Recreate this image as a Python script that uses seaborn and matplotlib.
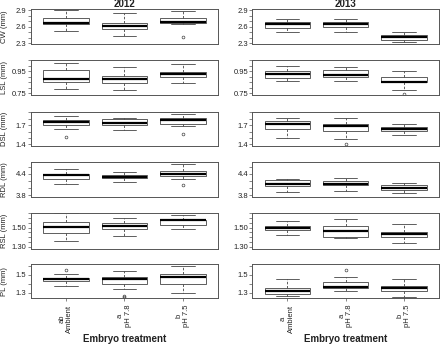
import numpy as np
import matplotlib
matplotlib.use("Agg")
import matplotlib.pyplot as plt
import seaborn as sns

# treatments and significance letters
treatments = ["Ambient", "pH 7.8", "pH 7.5"]
letters_2012 = ["ab", "a", "b"]
letters_2013 = ["a", "a", "b"]
years = ["2012", "2013"]
variables = ["CW", "LSL", "DSL", "RDL", "RSL", "PL"]

# box stats: [lower whisker, q1, median, q3, upper whisker]
CW_2012 = [[2.52, 2.64, 2.675, 2.755, 2.90], [2.43, 2.553, 2.62, 2.675, 2.856], [2.64, 2.665, 2.69, 2.75, 2.875]]
CW_2013 = [[2.50, 2.58, 2.65, 2.69, 2.74], [2.51, 2.585, 2.64, 2.69, 2.74], [2.33, 2.36, 2.405, 2.44, 2.50]]
LSL_2012 = [[0.786, 0.853, 0.88, 0.96, 1.025], [0.78, 0.84, 0.88, 0.91, 0.986], [0.844, 0.895, 0.923, 0.946, 1.014]]
LSL_2013 = [[0.862, 0.892, 0.923, 0.953, 0.995], [0.862, 0.898, 0.914, 0.965, 0.992], [0.777, 0.85, 0.855, 0.898, 0.956]]
DSL_2012 = [[1.638, 1.695, 1.747, 1.784, 1.84], [1.622, 1.695, 1.731, 1.80, 1.815], [1.68, 1.711, 1.778, 1.809, 1.871]]
DSL_2013 = [[1.498, 1.633, 1.722, 1.768, 1.815], [1.482, 1.607, 1.68, 1.716, 1.815], [1.54, 1.607, 1.638, 1.669, 1.716]]
RDL_2012 = [[4.106, 4.249, 4.38, 4.41, 4.534], [4.17, 4.277, 4.323, 4.363, 4.466], [4.266, 4.343, 4.41, 4.494, 4.677]]
RDL_2013 = [[3.886, 4.057, 4.106, 4.22, 4.266], [3.906, 4.077, 4.123, 4.209, 4.294], [3.849, 3.943, 4.009, 4.094, 4.151]]
RSL_2012 = [[1.363, 1.441, 1.504, 1.557, 1.652], [1.415, 1.486, 1.515, 1.553, 1.599], [1.486, 1.532, 1.578, 1.584, 1.637]]
RSL_2013 = [[1.42, 1.476, 1.50, 1.52, 1.571], [1.387, 1.405, 1.465, 1.52, 1.592], [1.335, 1.398, 1.434, 1.458, 1.539]]
PL_2012 = [[1.379, 1.432, 1.451, 1.463, 1.511], [1.338, 1.398, 1.451, 1.474, 1.549], [1.293, 1.398, 1.474, 1.515, 1.602]]
PL_2013 = [[1.263, 1.282, 1.32, 1.357, 1.459], [1.32, 1.35, 1.365, 1.425, 1.474], [1.25, 1.32, 1.353, 1.38, 1.459]]

# outliers
fliers_2012 = {"CW": [[], [], [2.41]], "DSL": [[1.509], [], [1.556]],
               "RDL": [[], [], [4.094]], "PL": [[1.553], [1.255, 1.262], []]}
fliers_2013 = {"LSL": [[], [], [0.743]], "DSL": [[], [1.40], []], "PL": [[], [1.56], []]}

stats_by_year = {
    "2012": {"CW": CW_2012, "LSL": LSL_2012, "DSL": DSL_2012, "RDL": RDL_2012, "RSL": RSL_2012, "PL": PL_2012},
    "2013": {"CW": CW_2013, "LSL": LSL_2013, "DSL": DSL_2013, "RDL": RDL_2013, "RSL": RSL_2013, "PL": PL_2013},
}
fliers_by_year = {"2012": fliers_2012, "2013": fliers_2013}

# axis ranges, ticks, labelled ticks
y_lims = {"CW": (2.28, 2.92), "LSL": (0.732, 1.053), "DSL": (1.38, 1.905),
          "RDL": (3.735, 4.75), "RSL": (1.279, 1.658), "PL": (1.237, 1.624)}
y_ticks = {"CW": np.arange(2.3, 2.95, 0.1), "LSL": np.arange(0.75, 1.06, 0.05),
           "DSL": np.arange(1.4, 1.95, 0.1), "RDL": np.arange(3.8, 4.65, 0.2),
           "RSL": np.arange(1.30, 1.66, 0.05), "PL": np.arange(1.3, 1.65, 0.1)}
y_labelled = {"CW": ["2.3", "2.6", "2.9"], "LSL": ["0.75", "0.95"], "DSL": ["1.4", "1.7"],
              "RDL": ["3.8", "4.4"], "RSL": ["1.30", "1.50"], "PL": ["1.3", "1.5"]}

sns.set_theme(style="white")
plt.rcParams["font.family"] = ["Liberation Sans", "DejaVu Sans"]

W, H = 440, 345
fig = plt.figure(figsize=(W / 100, H / 100), dpi=100)

col_x = [(30.7, 187.3), (252.3, 186.7)]
row_y = [(9, 44.3), (60, 95.3), (112, 145.7), (161.7, 197.3), (212.7, 248.7), (264, 298.3)]
gray = "#555555"
txt = "#222222"

for c, year in enumerate(years):
    x0, w = col_x[c]
    letters = letters_2012 if year == "2012" else letters_2013
    for r, var in enumerate(variables):
        top, bot = row_y[r]
        ax = fig.add_axes([x0 / W, 1 - bot / H, w / W, (bot - top) / H])
        rows = stats_by_year[year][var]
        fl = fliers_by_year[year].get(var, [[], [], []])
        stats = []
        for i, s in enumerate(rows):
            stats.append(dict(whislo=s[0], q1=s[1], med=s[2], q3=s[3], whishi=s[4], fliers=fl[i]))
        ax.bxp(stats, positions=[1, 2, 3], widths=0.78, capwidths=0.4, patch_artist=True,
               boxprops=dict(facecolor="white", edgecolor="#444444", linewidth=0.6),
               medianprops=dict(color="black", linewidth=1.6),
               whiskerprops=dict(color="#444444", linewidth=0.6, linestyle=(0, (3, 2))),
               capprops=dict(color="#444444", linewidth=0.6),
               flierprops=dict(marker="o", markersize=2, markerfacecolor="none",
                               markeredgecolor="#444444", markeredgewidth=0.5))
        ax.set_xlim(0.4, 3.6)
        ax.set_ylim(*y_lims[var])
        ticks = y_ticks[var]
        ax.set_yticks(ticks)
        fmt = "%.2f" if var in ("LSL", "RSL") else "%.1f"
        labs = [(fmt % t) if (fmt % t) in y_labelled[var] else "" for t in ticks]
        ax.set_yticklabels(labs)
        ax.tick_params(axis="y", direction="out", length=2, width=0.5, labelsize=5.5,
                       pad=1, colors=gray, labelcolor=txt, left=True)
        for sp in ax.spines.values():
            sp.set_color(gray)
            sp.set_linewidth(0.7)
        if r == len(variables) - 1:
            ax.set_xticks([1, 2, 3])
            ax.set_xticklabels([f"{l}\n{t}" for l, t in zip(letters, treatments)],
                               rotation=90, fontsize=5.5, color=txt, ha="center", va="top")
            ax.tick_params(axis="x", direction="out", length=2.5, width=0.5, pad=2,
                           colors=gray, labelcolor=txt, bottom=True)
            fig.text((x0 + w / 2) / W, 1 - 339 / H, "Embryo treatment", ha="center", va="center",
                     fontsize=7, fontweight="bold", color=txt)
        else:
            ax.set_xticks([])
        if r == 0:
            ax.set_title(year, fontsize=7, fontweight="bold", pad=1.5, color=txt)
        if c == 0:
            ax.set_ylabel(f"{var} (mm)", fontsize=5.5, color=txt)
            ax.yaxis.set_label_coords(-0.12, 0.5)

fig.savefig("out.png", dpi=100)
